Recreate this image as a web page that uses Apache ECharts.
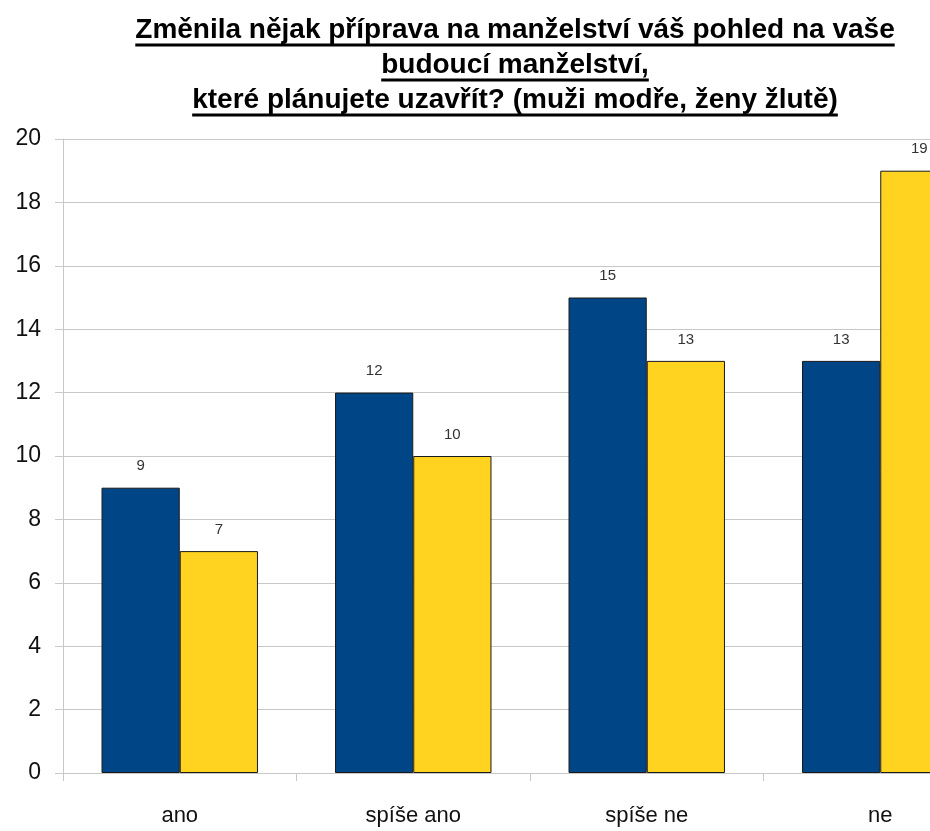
<!DOCTYPE html>
<html><head><meta charset="utf-8">
<script src="https://cdn.jsdelivr.net/npm/echarts@6/dist/echarts.min.js"></script>
<style>html,body{margin:0;padding:0;background:#fff}#c{width:930px;height:831px}</style>
</head><body><div id="c"></div>
<script>
const categories = ['ano', 'spíše ano', 'spíše ne', 'ne'];
const men = [9, 12, 15, 13];
const women = [7, 10, 13, 19];
const titleLines = ['Změnila nějak příprava na manželství váš pohled na vaše', 'budoucí manželství,', 'které plánujete uzavřít? (muži modře, ženy žlutě)'];

const FONT = '"Liberation Sans", Arial, sans-serif';
const titleFontSize = 28;
const ctx = document.createElement('canvas').getContext('2d');
ctx.font = 'bold ' + titleFontSize + 'px ' + FONT;
const titleCenterX = 515;
const baselines = [40, 75, 110];
const graphics = [];
titleLines.forEach((t, i) => {
  const w = ctx.measureText(t).width;
  graphics.push({type:'text', left: titleCenterX - w/2, top: baselines[i] - 0.84*titleFontSize,
    style:{text:t, font:'bold ' + titleFontSize + 'px ' + FONT, fill:'#000'}});
  graphics.push({type:'rect', shape:{x: titleCenterX - w/2, y: baselines[i] + 3.5, width: w, height: 3},
    style:{fill:'#000'}});
});

const chart = echarts.init(document.getElementById('c'), null, {renderer:'canvas'});
const labelOpt = {show:true, position:'top', distance:14, color:'#333', fontSize:15, fontFamily:FONT};
chart.setOption({
  animation:false,
  backgroundColor:'#fff',
  graphic: graphics,
  grid:{left:63, top:139, bottom:58, width:934, containLabel:false, outerBoundsMode:'none'},
  xAxis:{type:'category', data:categories,
    axisLine:{lineStyle:{color:'#c8c8c8', width:1}},
    axisTick:{show:true, length:8, alignWithLabel:false, lineStyle:{color:'#c8c8c8'}},
    axisLabel:{fontSize:22, color:'#111', fontFamily:FONT, margin:32}},
  yAxis:{type:'value', min:0, max:20, interval:2,
    axisLine:{show:true, lineStyle:{color:'#c8c8c8', width:1}},
    axisTick:{show:true, length:8, lineStyle:{color:'#c8c8c8'}},
    splitLine:{show:true, lineStyle:{color:'#c8c8c8', width:1}},
    axisLabel:{fontSize:23, color:'#111', fontFamily:FONT, margin:22}},
  series:[
    {type:'bar', name:'muži', data:men, barGap:'0%', barCategoryGap:'33%',
     itemStyle:{color:'#004586', borderColor:'#1a1a1a', borderWidth:1}, label:labelOpt},
    {type:'bar', name:'ženy', data:women, barGap:'0%', barCategoryGap:'33%',
     itemStyle:{color:'#ffd320', borderColor:'#1a1a1a', borderWidth:1}, label:labelOpt}
  ]
});
</script></body></html>
